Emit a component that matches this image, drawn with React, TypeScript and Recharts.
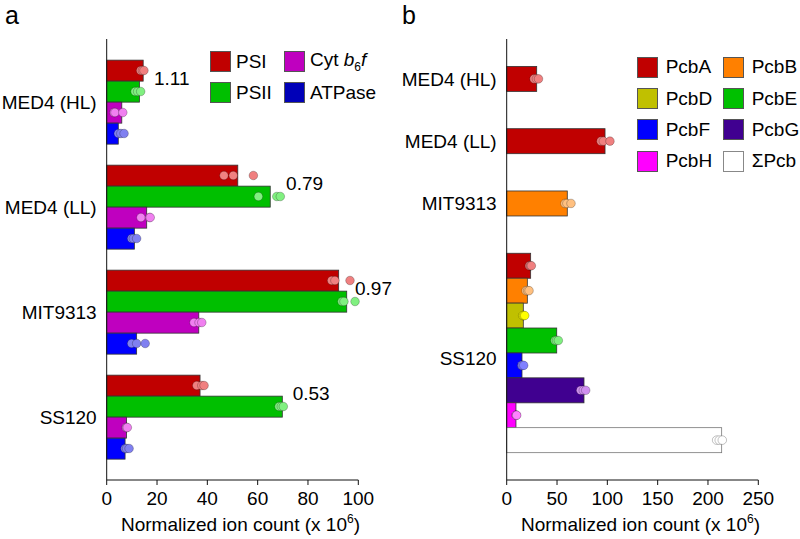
import { ComposedChart, Bar, Scatter, XAxis, YAxis, Cell, Legend, Label } from 'recharts';

// panel a: photosynthetic complexes
const strains = ['MED4 (HL)', 'MED4 (LL)', 'MIT9313', 'SS120'];
const complexNames = ['PSI', 'PSII', 'Cyt b6f', 'ATPase'];
const complexColors = ['#c00000', '#00bf00', '#bf00bf', '#0000ff'];
const complexLegendColors = ['#c00000', '#00bf00', '#bf00bf', '#0000b8'];
const complexDotColors = ['#f08080', '#80f080', '#f080f0', '#8080f0'];

const psi = [14.5, 52.1, 92.2, 37.1];
const psii = [13.0, 65.0, 95.4, 69.8];
const cytb6f = [6.0, 15.9, 36.6, 7.9];
const atpase = [4.6, 11.0, 11.9, 7.3];

const psiReps = [[13.5, 14.2, 14.8], [46.6, 50.3, 58.3], [89.4, 90.7, 96.7], [35.8, 37.8, 38.7]];
const psiiReps = [[11.3, 12.3, 13.5], [60.3, 67.6, 69.0], [93.5, 94.3, 98.7], [68.5, 69.4, 70.2]];
const cytReps = [[2.9, 3.3, 6.4], [13.6, 17.0, 17.3], [34.7, 36.7, 37.8], [7.7, 7.9, 8.2]];
const atpaseReps = [[4.6, 5.6, 6.9], [9.9, 10.6, 11.9], [9.9, 11.9, 15.3], [7.3, 7.9, 8.9]];

const ratioLabels = ['1.11', '0.79', '0.97', '0.53'];
const ratioX = [18.8, 71.3, 98.7, 73.9];

const xTicksA = [0, 20, 40, 60, 80, 100];

// panel b: Pcb antenna proteins
const pcbNames = ['PcbA', 'PcbB', 'PcbD', 'PcbE', 'PcbF', 'PcbG', 'PcbH', 'ΣPcb'];
const pcbColors = ['#c00000', '#ff8000', '#c0c000', '#00c000', '#0000ff', '#400090', '#ff00ff', '#ffffff'];
const pcbDotColors = ['#f08080', '#ffc080', '#ffff00', '#80f080', '#8080ff', '#d090f0', '#ff80ff', '#ffffff'];

const otherStrains = ['MED4 (HL)', 'MED4 (LL)', 'MIT9313'];
const otherPcb = [0, 0, 1];
const otherValues = [29.8, 97.7, 60.2];
const otherReps = [[27.2, 29.5, 31.6], [93.7, 96.0, 102.6], [57.9, 59.8, 63.9]];

const ss120Values = [23.8, 20.5, 16.5, 49.7, 15.2, 76.8, 9.2, 213.6];
const ss120Reps = [
  [22.5, 23.6, 24.5], [19.2, 20.8, 22.2], [15.9, 16.8, 17.9], [48.0, 49.5, 51.3],
  [14.9, 15.5, 16.9], [73.5, 76.1, 78.5], [9.2, 9.6, 9.9], [208.6, 211.2, 214.2],
];

const xTicksB = [0, 50, 100, 150, 200, 250];

// build tables
const seriesA = [psi, psii, cytb6f, atpase];
const repsA = [psiReps, psiiReps, cytReps, atpaseReps];

const barsA: any[] = [];
const dotsA: any[] = [];
strains.forEach((s, g) => {
  seriesA.forEach((vals, k) => {
    const pos = g * 5 + k + 1.5;
    barsA.push({ pos, v: vals[g], fill: complexColors[k] });
    repsA[k][g].forEach((r) => dotsA.push({ pos, v: r, fill: complexDotColors[k] }));
  });
});
const ratiosA = strains.map((s, g) => ({ pos: g * 5 + 1.9, v: ratioX[g], text: ratioLabels[g] }));
const ticksA = strains.map((s, g) => g * 5 + 3);
const tickNameA: Record<number, string> = {};
ticksA.forEach((t, i) => (tickNameA[t] = strains[i]));

const barsB: any[] = [];
const dotsB: any[] = [];
otherStrains.forEach((s, i) => {
  const pos = 1.6 + i * 2.5;
  barsB.push({ pos, v: otherValues[i], fill: pcbColors[otherPcb[i]] });
  otherReps[i].forEach((r) => dotsB.push({ pos, v: r, fill: pcbDotColors[otherPcb[i]] }));
});
ss120Values.forEach((v, k) => {
  const pos = 9.1 + k;
  barsB.push({ pos, v, fill: pcbColors[k] });
  ss120Reps[k].forEach((r) => dotsB.push({ pos, v: r, fill: pcbDotColors[k] }));
});
const ticksB = [1.6, 4.1, 6.6, 12.8];
const tickNameB: Record<number, string> = { 1.6: 'MED4 (HL)', 4.1: 'MED4 (LL)', 6.6: 'MIT9313', 12.8: 'SS120' };

const W = 400;
const H = 539;
const margin = { top: 39, right: 41.7, bottom: 29, left: 6.7 };
const FONT = 19;

const AxisTitle = (props: any) => {
  const vb = props.viewBox;
  return (
    <text x={vb.x + vb.width / 2 + 8} y={vb.y + 51} textAnchor="middle" fontSize={FONT} fill="#000">
      Normalized ion count (x 10<tspan dy={-8} fontSize={12}>6</tspan>
      <tspan dy={8}>)</tspan>
    </text>
  );
};

// bars keep a fixed thickness, centred on the row position from the y scale
const fixedBar = (size: number) => (p: any) => {
  const cy = p.y + p.height / 2;
  return (
    <rect
      x={p.x}
      y={cy - size / 2}
      width={Math.max(p.width, 0)}
      height={size}
      fill={p.payload.fill}
      stroke={p.payload.fill === '#ffffff' ? '#777' : '#333'}
      strokeWidth={0.8}
    />
  );
};

const Dot = (p: any) => (
  <circle cx={p.cx} cy={p.cy} r={4.3} fill={p.payload.fill} stroke="#000" strokeOpacity={0.3} strokeWidth={0.8} />
);

const RatioText = (p: any) => (
  <text x={p.cx} y={p.cy} fontSize={FONT} fill="#000" dominantBaseline="central">
    {p.payload.text}
  </text>
);

const swatch = (color: string) => (
  <span
    style={{
      display: 'inline-block',
      width: 19,
      height: 19,
      background: color,
      border: color === '#ffffff' ? '1px solid #888' : '1px solid #555',
    }}
  />
);

const LegendA = () => (
  <div style={{ display: 'grid', gridTemplateColumns: '74px 110px', rowGap: 10, fontSize: FONT }}>
    {[0, 2, 1, 3].map((k) => (
      <div key={k} style={{ display: 'flex', alignItems: 'center', height: 21, gap: 5 }}>
        {swatch(complexLegendColors[k])}
        {k === 2 ? (
          <span>
            Cyt <i>b</i>
            <sub style={{ fontSize: 12 }}>6</sub>
            <i>f</i>
          </span>
        ) : (
          <span>{complexNames[k]}</span>
        )}
      </div>
    ))}
  </div>
);

const LegendB = () => (
  <div style={{ display: 'grid', gridTemplateColumns: '86px 80px', rowGap: 10.4, fontSize: FONT }}>
    {[0, 1, 2, 3, 4, 5, 6, 7].map((k) => (
      <div key={k} style={{ display: 'flex', alignItems: 'center', height: 21, gap: 8 }}>
        {swatch(pcbColors[k])}
        <span>{pcbNames[k]}</span>
      </div>
    ))}
  </div>
);

const axisStroke = '#111';

export default function App() {
  return (
    <div
      style={{
        position: 'absolute',
        left: 0,
        top: 0,
        width: 800,
        height: 539,
        background: '#fff',
        fontFamily: '"Liberation Sans", Arial, sans-serif',
      }}
    >
      <div style={{ position: 'absolute', left: 5, top: 1, fontSize: 25, lineHeight: '28px' }}>a</div>
      <div style={{ position: 'absolute', left: 402, top: 1, fontSize: 25, lineHeight: '28px' }}>b</div>

      <div style={{ position: 'absolute', left: 0, top: 0 }}>
        <ComposedChart width={W} height={H} layout="vertical" data={barsA} margin={margin}>
          <XAxis
            type="number"
            dataKey="v"
            domain={[0, 100]}
            ticks={xTicksA}
            height={30}
            stroke={axisStroke}
            tickSize={5}
            tickMargin={7}
            tick={{ fontSize: FONT, fill: '#000' }}
          >
            <Label content={AxisTitle} />
          </XAxis>
          <YAxis
            type="number"
            dataKey="pos"
            domain={[0, 21]}
            ticks={ticksA}
            tickFormatter={(t: number) => tickNameA[t] ?? ''}
            width={100}
            stroke={axisStroke}
            tickLine={false}
            tickSize={0}
            tickMargin={10}
            interval={0}
            tick={{ fontSize: FONT, fill: '#000' }}
          />
          <Legend
            layout="horizontal"
            verticalAlign="middle"
            content={LegendA}
            wrapperStyle={{ left: 210, top: 51, width: 190 }}
          />
          <Bar dataKey="v" shape={fixedBar(21)} isAnimationActive={false}>
            {barsA.map((d, i) => (
              <Cell key={i} fill={d.fill} />
            ))}
          </Bar>
          <Scatter data={dotsA} shape={Dot} isAnimationActive={false} />
          <Scatter data={ratiosA} shape={RatioText} isAnimationActive={false} />
        </ComposedChart>
      </div>

      <div style={{ position: 'absolute', left: 400, top: 0 }}>
        <ComposedChart width={W} height={H} layout="vertical" data={barsB} margin={margin}>
          <XAxis
            type="number"
            dataKey="v"
            domain={[0, 250]}
            ticks={xTicksB}
            height={30}
            stroke={axisStroke}
            tickSize={5}
            tickMargin={7}
            tick={{ fontSize: FONT, fill: '#000' }}
          >
            <Label content={AxisTitle} />
          </XAxis>
          <YAxis
            type="number"
            dataKey="pos"
            domain={[0, 17.7]}
            ticks={ticksB}
            tickFormatter={(t: number) => tickNameB[t] ?? ''}
            width={100}
            stroke={axisStroke}
            tickLine={false}
            tickSize={0}
            tickMargin={10}
            interval={0}
            tick={{ fontSize: FONT, fill: '#000' }}
          />
          <Legend
            layout="horizontal"
            verticalAlign="middle"
            content={LegendB}
            wrapperStyle={{ left: 236.7, top: 56.7, width: 170 }}
          />
          <Bar dataKey="v" shape={fixedBar(25)} isAnimationActive={false}>
            {barsB.map((d, i) => (
              <Cell key={i} fill={d.fill} />
            ))}
          </Bar>
          <Scatter data={dotsB} shape={Dot} isAnimationActive={false} />
        </ComposedChart>
      </div>
    </div>
  );
}
